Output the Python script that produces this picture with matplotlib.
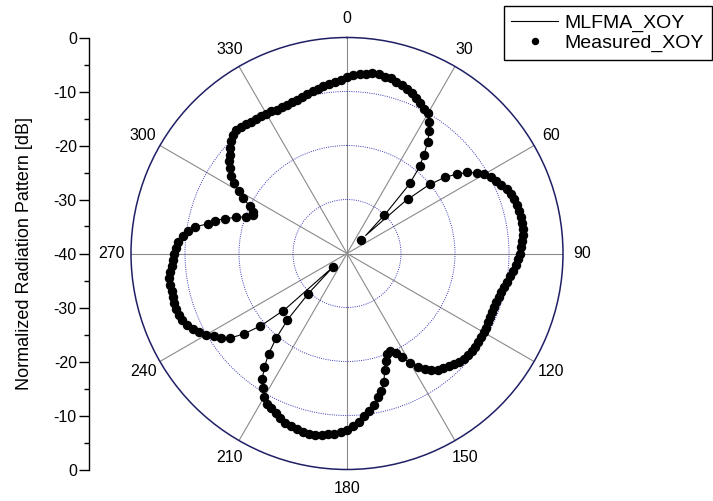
import numpy as np
import matplotlib
matplotlib.use("Agg")
import matplotlib.pyplot as plt
from matplotlib.ticker import MultipleLocator, FixedLocator

plt.rcParams['font.family'] = ['Liberation Sans', 'DejaVu Sans']

# angles in degrees, clockwise from top, every 2 degrees
angles_deg = list(range(0, 360, 2))

measured_db = [
    -7.3, -7.0, -6.7, -6.5, -6.3, -6.3, -6.5, -6.6, -6.9, -7.2,      # 0-18
    -7.6, -8.0, -8.5, -9.0, -9.6, -10.0, -11.2, -12.7, -14.5, -16.8,  # 20-38
    -18.9, -22.5, -30.2, -36.4, -24.8, -19.9, -17.0, -14.8, -13.1, -11.7,  # 40-58
    -10.6, -9.7, -9.2, -8.7, -8.0, -7.6, -7.4, -7.2, -7.1, -7.05,    # 60-78
    -7.0, -7.1, -7.3, -7.5, -7.7, -8.0, -8.3, -8.6, -9.0, -9.5,      # 80-98
    -10.0, -10.3, -10.6, -10.8, -10.9, -11.0, -11.0, -11.0, -10.9, -10.8,  # 100-118
    -10.8, -10.8, -10.7, -10.6, -10.6, -10.7, -10.8, -11.1, -11.5, -11.9,  # 120-138
    -12.2, -12.6, -13.4, -14.2, -15.2, -16.5, -18.3, -19.4, -20.3, -20.0,  # 140-158
    -18.8, -17.4, -15.2, -13.8, -12.8, -11.6, -10.6, -9.7, -8.8, -8.0,  # 160-178
    -7.4, -6.9, -6.5, -6.3, -6.1, -5.9, -5.9, -6.0, -6.2, -6.4,      # 180-198
    -6.6, -7.1, -7.7, -8.1, -8.5, -9.4, -10.7, -11.9, -14.0, -16.4,  # 200-218
    -19.5, -23.5, -29.6, -36.3, -24.0, -19.0, -15.8, -13.3, -11.9, -11.0,  # 220-238
    -9.8, -9.0, -8.2, -7.6, -7.1, -6.9, -6.8, -6.7, -6.7, -6.8,      # 240-258
    -6.8, -6.8, -7.1, -7.5, -7.7, -8.0, -8.3, -8.7, -9.4, -10.2,     # 260-278
    -11.5, -13.6, -14.8, -16.5, -18.4, -20.1, -21.2, -21.0, -20.0, -18.2,  # 280-298
    -16.8, -15.3, -14.2, -13.2, -12.3, -11.6, -10.9, -10.1, -9.6, -9.3,  # 300-318
    -9.4, -9.6, -9.8, -9.9, -10.0, -10.1, -10.2, -10.4, -10.4, -10.3,  # 320-338
    -10.2, -10.1, -9.9, -9.6, -9.3, -9.0, -8.7, -8.5, -8.2, -7.8,    # 340-358
]

mlfma_db = [
    -7.3, -7.0, -6.8, -6.6, -6.4, -6.4, -6.5, -6.7, -6.9, -7.2,
    -7.6, -8.0, -8.5, -9.0, -9.6, -10.1, -11.3, -12.8, -14.6, -16.9,
    -19.2, -22.8, -29.5, -35.2, -25.5, -20.3, -17.2, -15.0, -13.2, -11.8,
    -10.7, -9.8, -9.2, -8.7, -8.1, -7.7, -7.4, -7.2, -7.1, -7.05,
    -7.0, -7.1, -7.3, -7.5, -7.7, -8.0, -8.3, -8.6, -9.0, -9.5,
    -10.0, -10.3, -10.6, -10.8, -10.9, -11.0, -11.0, -11.0, -10.9, -10.8,
    -10.8, -10.8, -10.7, -10.6, -10.6, -10.7, -10.8, -11.1, -11.5, -11.9,
    -12.2, -12.6, -13.4, -14.2, -15.2, -16.5, -18.3, -19.4, -20.2, -20.0,
    -18.8, -17.4, -15.2, -13.8, -12.8, -11.6, -10.6, -9.7, -8.8, -8.0,
    -7.4, -6.9, -6.5, -6.3, -6.1, -5.9, -5.9, -6.0, -6.2, -6.4,
    -6.6, -7.1, -7.7, -8.1, -8.5, -9.4, -10.7, -11.9, -14.0, -16.4,
    -19.7, -23.8, -29.8, -36.5, -24.5, -19.2, -15.9, -13.4, -11.9, -11.0,
    -9.8, -9.0, -8.2, -7.6, -7.1, -6.9, -6.8, -6.7, -6.7, -6.8,
    -6.8, -6.8, -7.1, -7.5, -7.7, -8.0, -8.3, -8.7, -9.4, -10.2,
    -11.5, -13.6, -14.8, -16.5, -18.4, -20.1, -21.1, -21.0, -20.0, -18.2,
    -16.8, -15.3, -14.2, -13.2, -12.3, -11.6, -10.9, -10.1, -9.6, -9.3,
    -9.4, -9.6, -9.8, -9.9, -10.0, -10.1, -10.2, -10.4, -10.4, -10.3,
    -10.2, -10.1, -9.9, -9.6, -9.3, -9.0, -8.7, -8.5, -8.2, -7.8,
]

theta_ticks = list(range(0, 360, 30))
theta_labels = [str(t) for t in theta_ticks]
radial_rings = [-30, -20, -10]
side_ticks = [0, 10, 20, 30, 40, 50, 60, 70, 80]
side_labels = ['0', '-10', '-20', '-30', '-40', '-30', '-20', '-10', '0']

W, H = 713, 501
fig = plt.figure(figsize=(W / 100, H / 100), dpi=100)

cx, cy, R = 347, 253.5, 216
ax = fig.add_axes([(cx - R) / W, (H - cy - R) / H, 2 * R / W, 2 * R / H],
                  projection='polar')
ax.set_theta_zero_location('N')
ax.set_theta_direction(-1)
ax.set_rlim(-40, 0)

th = np.deg2rad(angles_deg + [angles_deg[0]])
ax.plot(th, mlfma_db + [mlfma_db[0]], color='black', lw=0.8,
        label='MLFMA_XOY', zorder=3)
ax.plot(np.deg2rad(angles_deg), measured_db, 'o', color='black', ms=5.8,
        label='Measured_XOY', zorder=4)

ax.set_thetagrids(theta_ticks, theta_labels, fontsize=11.5)
ax.xaxis.set_minor_locator(FixedLocator(np.deg2rad(np.arange(15, 360, 30))))
ax.tick_params(axis='x', which='major', direction='in', length=7,
               width=1.0, color='black', pad=7)
ax.tick_params(axis='x', which='minor', direction='in', length=4,
               width=0.8, color='black')
ax.xaxis.grid(True, color='#8a8a8a', lw=0.8, ls='-')

ax.set_rgrids(radial_rings, labels=['' for _ in radial_rings])
ax.yaxis.grid(True, color='#3a3ab8', lw=0.7, ls=(0, (1, 1.3)))
ax.spines['polar'].set_color('#1f1f66')
ax.spines['polar'].set_linewidth(1.1)
ax.set_axisbelow(True)

# side scale
sx = 89.3
side = fig.add_axes([sx / W, (H - cy - R) / H, 0.02, 2 * R / H])
side.set_ylim(0, 80)
side.set_xlim(0, 1)
for s in ['top', 'right', 'bottom']:
    side.spines[s].set_visible(False)
side.spines['left'].set_linewidth(1.0)
side.patch.set_alpha(0)
side.set_xticks([])
side.set_yticks(side_ticks)
side.set_yticklabels(side_labels, fontsize=11.5)
side.yaxis.set_minor_locator(MultipleLocator(5))
side.tick_params(axis='y', which='major', direction='out', length=7, width=1.0, pad=2)
side.tick_params(axis='y', which='minor', direction='out', length=3.5, width=1.0)
side.set_ylabel('Normalized Radiation Pattern [dB]', fontsize=13, labelpad=15)

leg = ax.legend(loc='upper right', bbox_to_anchor=(712 / W, 1 - 6 / H),
                bbox_transform=fig.transFigure, fontsize=14, frameon=True,
                fancybox=False, edgecolor='black', framealpha=1,
                handlelength=2.4, handletextpad=0.35, borderpad=0.4,
                labelspacing=0.15, borderaxespad=0, markerscale=0.75)
leg.get_frame().set_linewidth(1.0)

fig.savefig('out.png', dpi=100)
